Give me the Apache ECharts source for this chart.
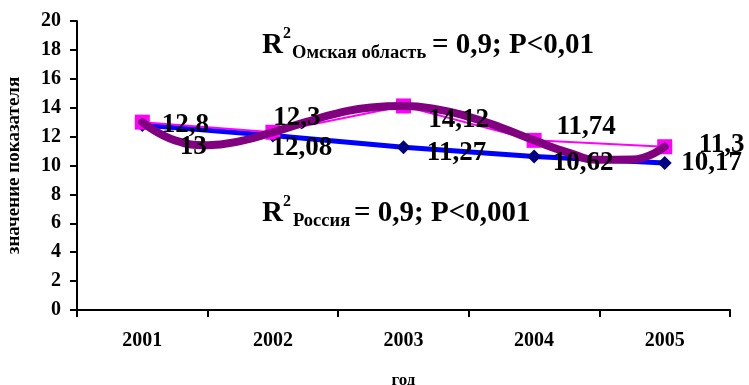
<!DOCTYPE html>
<html>
<head>
<meta charset="utf-8">
<script src="https://cdn.jsdelivr.net/npm/echarts@6/dist/echarts.min.js"></script>
<style>html,body{margin:0;padding:0;background:#fff;}#c{width:749px;height:385px;}</style>
</head>
<body>
<div id="c"></div>
<script>
// ---- data ----
var years = ['2001', '2002', '2003', '2004', '2005'];
var omsk = [13, 12.3, 14.12, 11.74, 11.3];
var russia = [12.8, 12.08, 11.27, 10.62, 10.17];
var omskLabels = ['13', '12,3', '14,12', '11,74', '11,3'];
var russiaLabels = ['12,8', '12,08', '11,27', '10,62', '10,17'];
// polynomial trend for Omsk region at quarter-year steps
var trendX = [1, 1.25, 1.5, 1.75, 2, 2.25, 2.5, 2.75, 3, 3.25, 3.5, 3.75, 4, 4.25, 4.5, 4.75, 5];
var trendY = [13.0, 11.74, 11.41, 11.69, 12.3, 13.0, 13.62, 14.02, 14.12, 13.9, 13.37, 12.61, 11.74, 10.93, 10.39, 10.41, 11.3];
var yTicks = {min: 0, max: 20, interval: 2};

// ---- label placement (styling) ----
var omskOff = [[51, 25], [24, -14], [55, 14], [52, -13], [57, -2]];
var russiaOff = [[43, 0], [29, 13], [53, 6], [49, 6], [47, 0]];

var FONT = '"Liberation Serif", "Times New Roman", serif';

function labelData(vals, texts, offs) {
  return vals.map(function (v, i) {
    return {
      value: v,
      label: {
        show: true, position: 'inside', formatter: texts[i],
        offset: offs[i], align: 'center', verticalAlign: 'middle',
        fontFamily: FONT, fontWeight: 'bold', fontSize: 27, color: '#000',
        opacity: 1, textBorderWidth: 0
      }
    };
  });
}

var chart = echarts.init(document.getElementById('c'));
chart.setOption({
  animation: false,
  backgroundColor: '#fff',
  grid: {left: 77, right: 19, top: 21, bottom: 75, containLabel: false, outerBoundsMode: 'none'},
  xAxis: [{
    type: 'category', data: years, boundaryGap: true,
    axisLine: {lineStyle: {color: '#000', width: 2}},
    axisTick: {show: true, length: 7, lineStyle: {color: '#000', width: 2}},
    axisLabel: {margin: 21, fontFamily: FONT, fontWeight: 'bold', fontSize: 20, color: '#000'},
    name: 'год', nameLocation: 'middle', nameGap: 62,
    nameTextStyle: {fontFamily: FONT, fontWeight: 'bold', fontSize: 17, color: '#000'}
  }, {
    type: 'value', min: 0.5, max: 5.5, show: false
  }],
  yAxis: {
    type: 'value', min: yTicks.min, max: yTicks.max, interval: yTicks.interval,
    axisLine: {show: true, lineStyle: {color: '#000', width: 2}},
    axisTick: {show: true, length: 7, lineStyle: {color: '#000', width: 2}},
    splitLine: {show: false},
    axisLabel: {margin: 16, fontFamily: FONT, fontWeight: 'bold', fontSize: 20, color: '#000'},
    name: 'значение показателя', nameLocation: 'middle', nameGap: 53,
    nameTextStyle: {fontFamily: FONT, fontWeight: 'bold', fontSize: 19, color: '#000'}
  },
  series: [{
    name: 'Россия', type: 'line', data: russia, z: 2,
    lineStyle: {color: '#0000FF', width: 5},
    symbol: 'diamond', symbolSize: 14, itemStyle: {color: '#000080'}
  }, {
    name: 'Омская область', type: 'line', data: omsk, z: 3,
    lineStyle: {color: '#FF00FF', width: 2},
    symbol: 'rect', symbolSize: 15, itemStyle: {color: '#FF00FF'}
  }, {
    name: 'тренд', type: 'line', xAxisIndex: 1, z: 4,
    data: trendX.map(function (x, i) { return [x, trendY[i]]; }),
    smooth: true, showSymbol: false, symbol: 'none',
    lineStyle: {color: '#800080', width: 8, cap: 'round'}
  }, {
    type: 'scatter', data: labelData(omsk, omskLabels, omskOff), symbolSize: 0, z: 10, silent: true,
    itemStyle: {opacity: 1}
  }, {
    type: 'scatter', data: labelData(russia, russiaLabels, russiaOff), symbolSize: 0, z: 11, silent: true,
    itemStyle: {opacity: 1}
  }],
  graphic: [
    {type: 'text', left: 262, top: 31, z: 20, style: {text: 'R', font: 'bold 29px ' + FONT, fill: '#000'}},
    {type: 'text', left: 283, top: 26, z: 20, style: {text: '2', font: 'bold 16px ' + FONT, fill: '#000'}},
    {type: 'text', left: 292, top: 44, z: 20, style: {text: 'Омская область', font: 'bold 18.5px ' + FONT, fill: '#000'}},
    {type: 'text', left: 432, top: 31, z: 20, style: {text: '= 0,9; P<0,01', font: 'bold 29px ' + FONT, fill: '#000'}},
    {type: 'text', left: 262, top: 199, z: 20, style: {text: 'R', font: 'bold 29px ' + FONT, fill: '#000'}},
    {type: 'text', left: 283, top: 194, z: 20, style: {text: '2', font: 'bold 16px ' + FONT, fill: '#000'}},
    {type: 'text', left: 293, top: 212, z: 20, style: {text: 'Россия', font: 'bold 18.5px ' + FONT, fill: '#000'}},
    {type: 'text', left: 354, top: 199, z: 20, style: {text: '= 0,9; P<0,001', font: 'bold 29px ' + FONT, fill: '#000'}}
  ]
});
</script>
</body>
</html>
